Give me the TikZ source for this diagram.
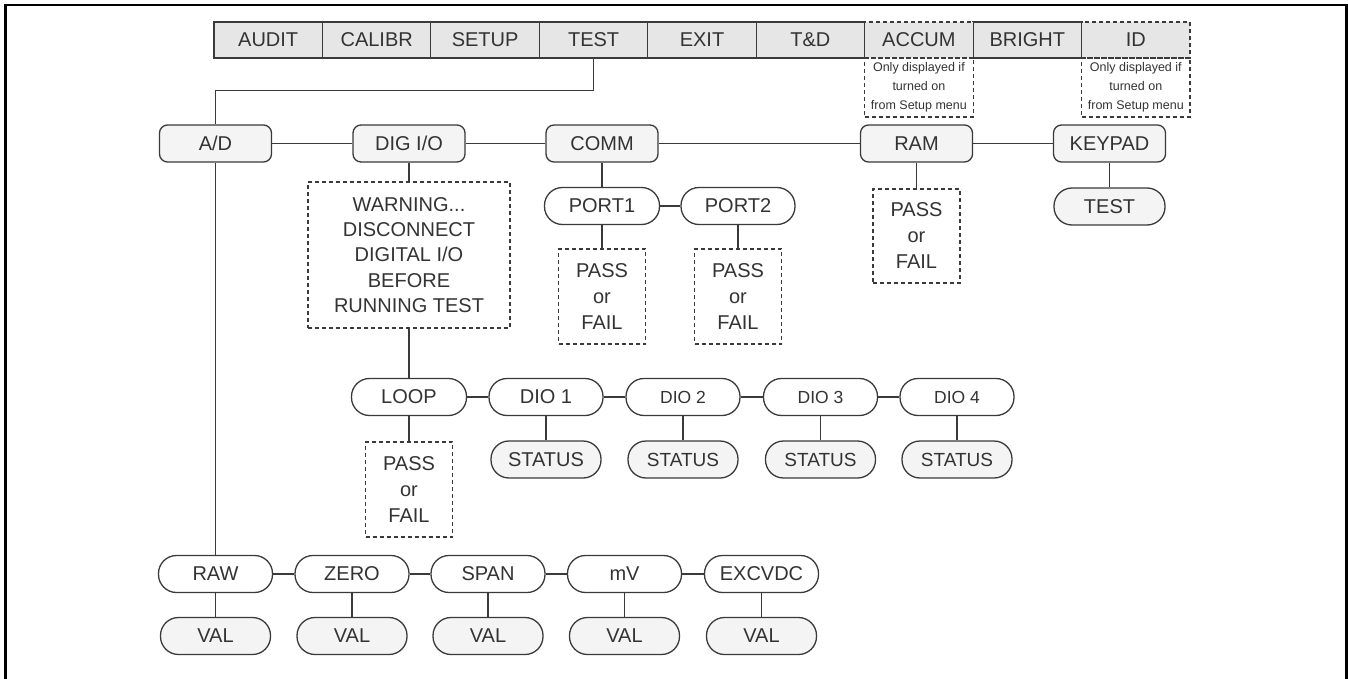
\documentclass[tikz,border=0pt]{standalone}
\usepackage{fontspec}
\setmainfont{Liberation Sans}
\definecolor{ln}{HTML}{3A3A3A}
\definecolor{tx}{HTML}{333333}
\definecolor{barfill}{HTML}{E6E6E6}
\definecolor{boxfill}{HTML}{F4F4F4}
\begin{document}
\begin{tikzpicture}[x=1pt,y=-1pt,
  every node/.style={text=tx, inner sep=0pt, font=\fontsize{20}{25.3}\selectfont},
  conn/.style={draw=ln, line width=1.3pt},
  cell/.style={draw=ln, fill=barfill, line width=1.2pt, minimum width=108.44pt, minimum height=36pt},
  dcell/.style={cell, dash pattern=on 4pt off 3pt},
  note/.style={draw=ln, line width=1.1pt, dash pattern=on 4pt off 3pt, align=center, minimum width=108.44pt, minimum height=59pt, font=\fontsize{12.5}{19}\selectfont},
  menubox/.style={draw=ln, fill=boxfill, line width=1.3pt, rounded corners=8pt, minimum width=112pt, minimum height=37pt},
  pill/.style={draw=ln, fill=white, line width=1.3pt, rounded corners=18pt, minimum width=114pt, minimum height=37pt},
  gpill/.style={pill, fill=boxfill, minimum width=110pt},
  dbox/.style={draw=ln, line width=1.2pt, dash pattern=on 4pt off 3pt, align=center, minimum width=87pt, minimum height=95pt, font=\fontsize{20}{26}\selectfont},
  small/.style={font=\fontsize{17.5}{21}\selectfont},
  smalls/.style={font=\fontsize{19}{23}\selectfont}
]
\useasboundingbox (0,0) rectangle (1348,679);
% frame
\draw[line width=2.5pt, black] (5.5,690) -- (5.5,5) -- (1346.5,5) -- (1346.5,690);

% menu bar
\node[cell] (audit) at (268.2,40) {AUDIT};
\node[cell] (calibr) at (376.7,40) {CALIBR};
\node[cell] (setup) at (485.1,40) {SETUP};
\node[cell] (test) at (593.6,40) {TEST};
\node[cell] (exit) at (702.0,40) {EXIT};
\node[cell] (td) at (810.4,40) {T\&D};
\node[cell] (bright) at (1027.3,40) {BRIGHT};
\node[dcell] (accum) at (918.9,40) {ACCUM};
\node[dcell] (id) at (1135.8,40) {ID};
\node[note] (accnote) at (918.9,87.5) {Only displayed if\\turned on\\from Setup menu};
\node[note] (idnote) at (1135.8,87.5) {Only displayed if\\turned on\\from Setup menu};

% level 1
\node[menubox] (ad) at (215.5,143.5) {A/D};
\node[menubox] (dig) at (409,143.5) {DIG I/O};
\node[menubox] (comm) at (602,143.5) {COMM};
\node[menubox] (ram) at (916.5,143.5) {RAM};
\node[menubox] (keypad) at (1109.5,143.5) {KEYPAD};

\coordinate (bend) at (593.6,90.5);
\draw[conn] (test.south) -- (bend) -| (ad.north);
\draw[conn] (ad) -- (dig);
\draw[conn] (dig) -- (comm);
\draw[conn] (comm) -- (ram);
\draw[conn] (ram) -- (keypad);

% DIG I/O branch
\node[draw=ln, line width=1.2pt, dash pattern=on 4pt off 3pt, align=center, minimum width=202pt, minimum height=146pt] (warn) at (409,255) {WARNING...\\DISCONNECT\\DIGITAL I/O\\BEFORE\\RUNNING TEST};
\draw[conn] (dig) -- (warn);

% COMM branch
\node[pill, minimum width=115pt] (port1) at (602,206) {PORT1};
\node[pill] (port2) at (738,206) {PORT2};
\node[dbox] (p1pass) at (602,296.5) {PASS\\or\\FAIL};
\node[dbox] (p2pass) at (738,296.5) {PASS\\or\\FAIL};
\draw[conn] (comm) -- (port1);
\draw[conn] (port1) -- (port2);
\draw[conn] (port1) -- (p1pass);
\draw[conn] (port2) -- (p2pass);

% RAM branch
\node[dbox, minimum height=94pt] (rampass) at (916.5,236) {PASS\\or\\FAIL};
\draw[conn] (ram) -- (rampass);

% KEYPAD branch
\node[gpill, minimum width=111pt] (ktest) at (1109.5,206.5) {TEST};
\draw[conn] (keypad) -- (ktest);

% LOOP / DIO row
\node[pill, minimum width=115pt] (loop) at (409,397) {LOOP};
\node[pill] (dio1) at (546,397) {DIO 1};
\node[pill, small] (dio2) at (683,397) {DIO 2};
\node[pill, small] (dio3) at (820.5,397) {DIO 3};
\node[pill, small] (dio4) at (957,397) {DIO 4};
\draw[conn] (warn) -- (loop);
\draw[conn] (loop) -- (dio1);
\draw[conn] (dio1) -- (dio2);
\draw[conn] (dio2) -- (dio3);
\draw[conn] (dio3) -- (dio4);

\node[dbox] (looppass) at (409,489.5) {PASS\\or\\FAIL};
\draw[conn] (loop) -- (looppass);

\node[gpill] (st1) at (546,459.5) {STATUS};
\node[gpill, smalls] (st2) at (683,459.5) {STATUS};
\node[gpill, smalls] (st3) at (820.5,459.5) {STATUS};
\node[gpill, smalls] (st4) at (957,459.5) {STATUS};
\draw[conn] (dio1) -- (st1);
\draw[conn] (dio2) -- (st2);
\draw[conn] (dio3) -- (st3);
\draw[conn] (dio4) -- (st4);

% A/D branch
\node[pill] (raw) at (215.5,574) {RAW};
\node[pill] (zero) at (352,574) {ZERO};
\node[pill] (span) at (488,574) {SPAN};
\node[pill] (mv) at (624.5,574) {mV};
\node[pill] (exc) at (761.5,574) {EXCVDC};
\draw[conn] (ad) -- (raw);
\draw[conn] (raw) -- (zero);
\draw[conn] (zero) -- (span);
\draw[conn] (span) -- (mv);
\draw[conn] (mv) -- (exc);

\node[gpill] (val1) at (215.5,636) {VAL};
\node[gpill] (val2) at (352,636) {VAL};
\node[gpill] (val3) at (488,636) {VAL};
\node[gpill] (val4) at (624.5,636) {VAL};
\node[gpill] (val5) at (761.5,636) {VAL};
\draw[conn] (raw) -- (val1);
\draw[conn] (zero) -- (val2);
\draw[conn] (span) -- (val3);
\draw[conn] (mv) -- (val4);
\draw[conn] (exc) -- (val5);
\end{tikzpicture}
\end{document}
